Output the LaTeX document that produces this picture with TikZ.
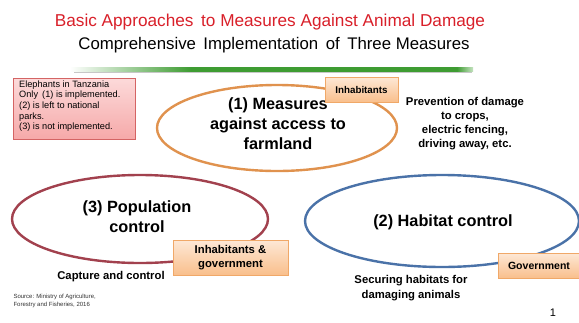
\documentclass[tikz,border=0pt]{standalone}
\usepackage{fontspec}
\setmainfont{Liberation Sans}
\usetikzlibrary{shadows,shapes.geometric}
\definecolor{titlered}{HTML}{D9202A}
\definecolor{ringorange}{HTML}{E0924E}
\definecolor{ringred}{HTML}{A2414E}
\definecolor{ringblue}{HTML}{4A72A8}
\definecolor{barGreen}{HTML}{3E9C32}
\definecolor{barFade}{HTML}{C5E3C0}
\definecolor{tagtop}{HTML}{FDE8D6}
\definecolor{tagbot}{HTML}{F9BF8C}
\definecolor{tagedge}{HTML}{F0A868}
\definecolor{notetop}{HTML}{FCDADA}
\definecolor{notebot}{HTML}{F6A9A9}
\definecolor{noteedge}{HTML}{D46464}
% green rule: fades in from the left, solid, short fade at the right end
\pgfdeclarehorizontalshading{greenbar}{100bp}{color(0bp)=(white); color(25bp)=(white);
  color(40bp)=(barGreen); color(73bp)=(barGreen); color(75bp)=(barFade); color(100bp)=(barFade)}
\tikzset{
  ring/.style={draw=#1, line width=2.4pt, ellipse, inner sep=0pt},
  tagbox/.style={draw=tagedge, line width=0.4pt, top color=tagtop, bottom color=tagbot,
    font=\fontsize{11.3}{14}\selectfont\bfseries, align=center, inner sep=0pt,
    drop shadow={opacity=0.25, shadow xshift=1.2pt, shadow yshift=-1.2pt}},
  ringtext/.style={font=\fontsize{16.3}{20}\selectfont\bfseries, align=center},
  sidetext/.style={font=\fontsize{11.3}{14.2}\selectfont\bfseries, align=center},
}
\begin{document}
\begin{tikzpicture}[x=1pt,y=-1pt]
\useasboundingbox[fill=white] (0,0) rectangle (579,322);

% headings
\node[text=titlered, font=\fontsize{17.2}{19}\selectfont] (title) at (270,22)
  {Basic Approaches\, to Measures Against Animal Damage};
\node[font=\fontsize{16.8}{19}\selectfont] (subtitle) at (274,45)
  {Comprehensive\, Implementation\, of\, Three Measures};

% green rule under the headings
\fill[black!22] (74,71) rectangle (472,72.5);
\shade[shading=greenbar] (70,67.5) rectangle (473,71);

% note box
\node[draw=noteedge, line width=0.4pt, top color=notetop, bottom color=notebot,
  minimum width=122pt, minimum height=61pt, inner sep=0pt,
  drop shadow={opacity=0.25, shadow xshift=1.2pt, shadow yshift=-1.2pt}] (note) at (74,108.5) {};
\node[anchor=north west, align=left, inner sep=0pt,
  font=\fontsize{9.2}{10.6}\selectfont] (notetext) at (19,80.5)
  {Elephants in Tanzania\\Only\, (1) is implemented.\\(2) is left to national\\parks.\\(3) is not implemented.};

% three measures
\node[ring=ringorange, minimum width=240pt, minimum height=86pt] (m1) at (277,128) {};
\node[ring=ringred, minimum width=256pt, minimum height=88pt] (m3) at (140,219) {};
\node[ring=ringblue, minimum width=274pt, minimum height=92pt] (m2) at (442,221) {};

\node[ringtext] (m1text) at (278,124) {(1) Measures\\against access to\\farmland};
\node[ringtext] (m3text) at (137,217) {(3) Population\\control};
\node[ringtext] (m2text) at (443,222) {(2) Habitat control};

% who carries out each measure
\node[tagbox, minimum width=73pt, minimum height=25pt, font=\fontsize{9.8}{11}\selectfont\bfseries] (t1) at (361.5,89.5) {Inhabitants};
\node[tagbox, minimum width=115pt, minimum height=35pt] (t3) at (230.5,257.5) {Inhabitants \&\\government};
\node[tagbox, minimum width=82pt, minimum height=25pt, font=\fontsize{10.5}{12}\selectfont\bfseries] (t2) at (539,265.5) {Government};

% descriptions
\node[sidetext] (d1) at (465,123.5) {Prevention of damage\\to crops,\\electric fencing,\\driving away, etc.};
\node[sidetext] (d3) at (111,277) {Capture and control};
\node[sidetext] (d2) at (411,288) {Securing habitats for\\damaging animals};

% footer
\node[anchor=west, align=left, font=\fontsize{6}{7.6}\selectfont, text=black!80] (src) at (10,301)
  {Source: Ministry of Agriculture,\\Forestry and Fisheries, 2016};
\node[font=\fontsize{11}{12}\selectfont] (page) at (553,313) {1};
\end{tikzpicture}
\end{document}
